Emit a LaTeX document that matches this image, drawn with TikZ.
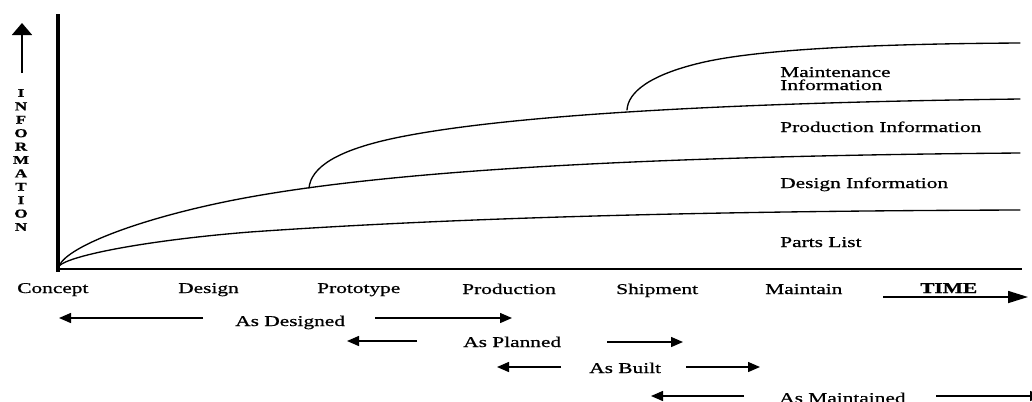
\documentclass[tikz,border=0pt]{standalone}
\usepackage{fontspec}
\setmainfont{Liberation Serif}[FakeStretch=1.43,FakeBold=0.8]
\usetikzlibrary{arrows.meta}
\begin{document}
\begin{tikzpicture}[x=0.75pt,y=-0.75pt,
  curve/.style={line width=1pt, line join=round, line cap=round},
  lbl/.style={font=\fontsize{11.2}{13}\selectfont, inner sep=0pt, anchor=base west},
  rowarrow/.style={line width=1.1pt, -{Triangle[length=9pt,width=7.5pt]}},
  axisline/.style={line width=#1}]
\useasboundingbox (0,0) rectangle (1032,401);
% axes
\coordinate (origin) at (58,269);
\coordinate (ytop) at (58,14);
\coordinate (xend) at (1022,269);
\draw[axisline=3pt] (ytop) -- (58,272);
\draw[axisline=2pt] (57,269) -- (xend);
% information arrow and label
\coordinate (upbase) at (22,73);
\coordinate (uptip) at (22,23);
\draw[line width=1.3pt, -{Triangle[length=9pt,width=15pt]}] (upbase) -- (uptip);
\node[font=\bfseries\fontsize{9}{10.05}\selectfont, align=center, inner sep=0pt] (infolbl) at (21,160)
  {I\\N\\F\\O\\R\\M\\A\\T\\I\\O\\N};
% curves
\coordinate (c0) at (59,266);
\coordinate (partsend) at (1020,210);
\coordinate (designend) at (1020,153);
\coordinate (prodstart) at (309,188);
\coordinate (prodend) at (1020,99);
\coordinate (maintstart) at (627,110);
\coordinate (maintend) at (1020,43);
\draw[curve] (c0) .. controls (70,255) and (150,240) .. (250,232)
  .. controls (450,218) and (700,211) .. (partsend);
\draw[curve] (c0) .. controls (68,245) and (150,215) .. (250,197)
  .. controls (400,170) and (650,156) .. (designend);
\draw[curve] (prodstart) .. controls (311,168) and (335,150) .. (400,137)
  .. controls (500,117) and (700,103) .. (prodend);
\draw[curve] (maintstart) .. controls (628,92) and (650,75) .. (700,63)
  .. controls (750,51) and (850,44) .. (maintend);
% region labels
\node[lbl] (maint1) at (780,77) {Maintenance};
\node[lbl] (maint2) at (780,90) {Information};
\node[lbl] (prodinfo) at (780,132) {Production Information};
\node[lbl] (designinfo) at (780,188) {Design Information};
\node[lbl] (parts) at (780,247) {Parts List};
% phase labels
\node[lbl] (concept) at (17,293) {Concept};
\node[lbl] (design) at (178,293) {Design};
\node[lbl] (proto) at (317,293) {Prototype};
\node[lbl] (production) at (462,294) {Production};
\node[lbl] (shipment) at (616,294) {Shipment};
\node[lbl] (maintain) at (765,294) {Maintain};
\node[lbl, font=\bfseries\fontsize{11.2}{13}\selectfont] (time) at (920,293) {TIME};
\coordinate (timeA) at (883,297);
\coordinate (timeB) at (1028,297);
\draw[line width=1.2pt, -{Triangle[length=15pt,width=9pt]}] (timeA) -- (timeB);
% As Designed
\node[lbl] (asdes) at (235,326) {As Designed};
\coordinate (d1) at (203,318); \coordinate (d2) at (59,318);
\coordinate (d3) at (375,318); \coordinate (d4) at (512,318);
\draw[rowarrow] (d1) -- (d2);
\draw[rowarrow] (d3) -- (d4);
% As Planned
\node[lbl] (asplan) at (463,347) {As Planned};
\coordinate (p1) at (417,341); \coordinate (p2) at (347,341);
\coordinate (p3) at (607,342); \coordinate (p4) at (683,342);
\draw[rowarrow] (p1) -- (p2);
\draw[rowarrow] (p3) -- (p4);
% As Built
\node[lbl] (asbuilt) at (589,373) {As Built};
\coordinate (b1) at (561,367); \coordinate (b2) at (497,367);
\coordinate (b3) at (686,367); \coordinate (b4) at (760,367);
\draw[rowarrow] (b1) -- (b2);
\draw[rowarrow] (b3) -- (b4);
% As Maintained
\node[lbl] (asmaint) at (779,403) {As Maintained};
\coordinate (m1) at (744,396); \coordinate (m2) at (651,396);
\coordinate (m3) at (936,396); \coordinate (m4) at (1042,396);
\draw[rowarrow] (m1) -- (m2);
\draw[rowarrow] (m3) -- (m4);
\end{tikzpicture}
\end{document}
